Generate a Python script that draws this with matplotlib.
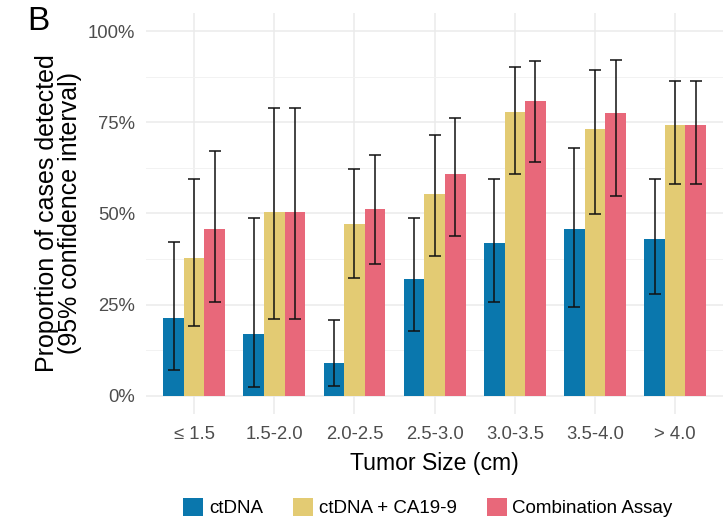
import numpy as np
import matplotlib
matplotlib.use('Agg')
import matplotlib.pyplot as plt
from matplotlib.patches import Patch

plt.rcParams['font.family'] = ['Liberation Sans', 'DejaVu Sans']

# data (in %)
sizes = ['\u2264 1.5', '1.5-2.0', '2.0-2.5', '2.5-3.0', '3.0-3.5', '3.5-4.0', '> 4.0']
series = ['ctDNA', 'ctDNA + CA19-9', 'Combination Assay']

ctdna = [21.3, 16.8, 8.9, 32.0, 41.8, 45.8, 43.0]
ctdna_lo = [7.1, 2.3, 2.6, 17.8, 25.6, 24.4, 27.8]
ctdna_hi = [42.2, 48.7, 20.7, 48.7, 59.3, 67.9, 59.3]

ca199 = [37.7, 50.4, 47.1, 55.3, 77.9, 73.0, 74.2]
ca199_lo = [19.0, 21.1, 32.3, 38.4, 60.9, 49.9, 58.1]
ca199_hi = [59.4, 79.0, 62.2, 71.6, 90.0, 89.2, 86.4]

combo = [45.8, 50.4, 51.2, 60.7, 80.8, 77.4, 74.2]
combo_lo = [25.6, 21.1, 36.2, 43.7, 64.1, 54.7, 58.1]
combo_hi = [67.1, 79.0, 65.9, 76.2, 91.7, 92.1, 86.4]

colors = ['#0A77AD', '#E3CB73', '#E8687A']

fig = plt.figure(figsize=(7.24, 5.21), dpi=100)
ax = fig.add_axes([0.2017, 0.2054, 0.7973, 0.7701])

x = np.arange(len(sizes))
w = 0.257
vals = [ctdna, ca199, combo]
los = [ctdna_lo, ca199_lo, combo_lo]
his = [ctdna_hi, ca199_hi, combo_hi]

for i in range(3):
    pos = x + (i - 1) * w
    v = np.array(vals[i]) / 100
    lo = np.array(los[i]) / 100
    hi = np.array(his[i]) / 100
    ax.bar(pos, v, width=w, color=colors[i], zorder=2)
    ax.errorbar(pos, v, yerr=[v - lo, hi - v], fmt='none', ecolor='#111111',
                elinewidth=1.1, capsize=4, capthick=1.1, zorder=3)

ax.set_xlim(-0.6, len(sizes) - 0.4)
ax.set_ylim(-0.05, 1.05)
ax.set_yticks([0, 0.25, 0.5, 0.75, 1.0])
ax.set_yticklabels(['0%', '25%', '50%', '75%', '100%'])
ax.set_yticks([0.125, 0.375, 0.625, 0.875], minor=True)
ax.set_xticks(x)
ax.set_xticklabels(sizes)

ax.grid(True, which='major', color='#EBEBEB', lw=1.1, zorder=0)
ax.grid(True, which='minor', axis='y', color='#F2F2F2', lw=0.7, zorder=0)
ax.set_axisbelow(True)
for s in ax.spines.values():
    s.set_visible(False)
ax.tick_params(which='both', length=0, labelsize=13.3, labelcolor='#4D4D4D')
ax.tick_params(axis='x', pad=9)
ax.tick_params(axis='y', pad=8)

ax.set_xlabel('Tumor Size (cm)', fontsize=16.6, labelpad=6)
ax.set_ylabel('Proportion of cases detected\n(95% confidence interval)', fontsize=18,
              linespacing=0.95, labelpad=4)

fig.text(0.038, 0.958, 'B', fontsize=24, ha='left', va='center')

handles = [Patch(facecolor=c, edgecolor='none') for c in colors]
fig.legend(handles, series, loc='center', bbox_to_anchor=(0.591, 1 - 507.7 / 521),
           ncol=3, frameon=False, fontsize=13.5, handlelength=1.07, handleheight=1.07,
           handletextpad=0.3, columnspacing=1.6)

fig.savefig('out.png', dpi=100)
